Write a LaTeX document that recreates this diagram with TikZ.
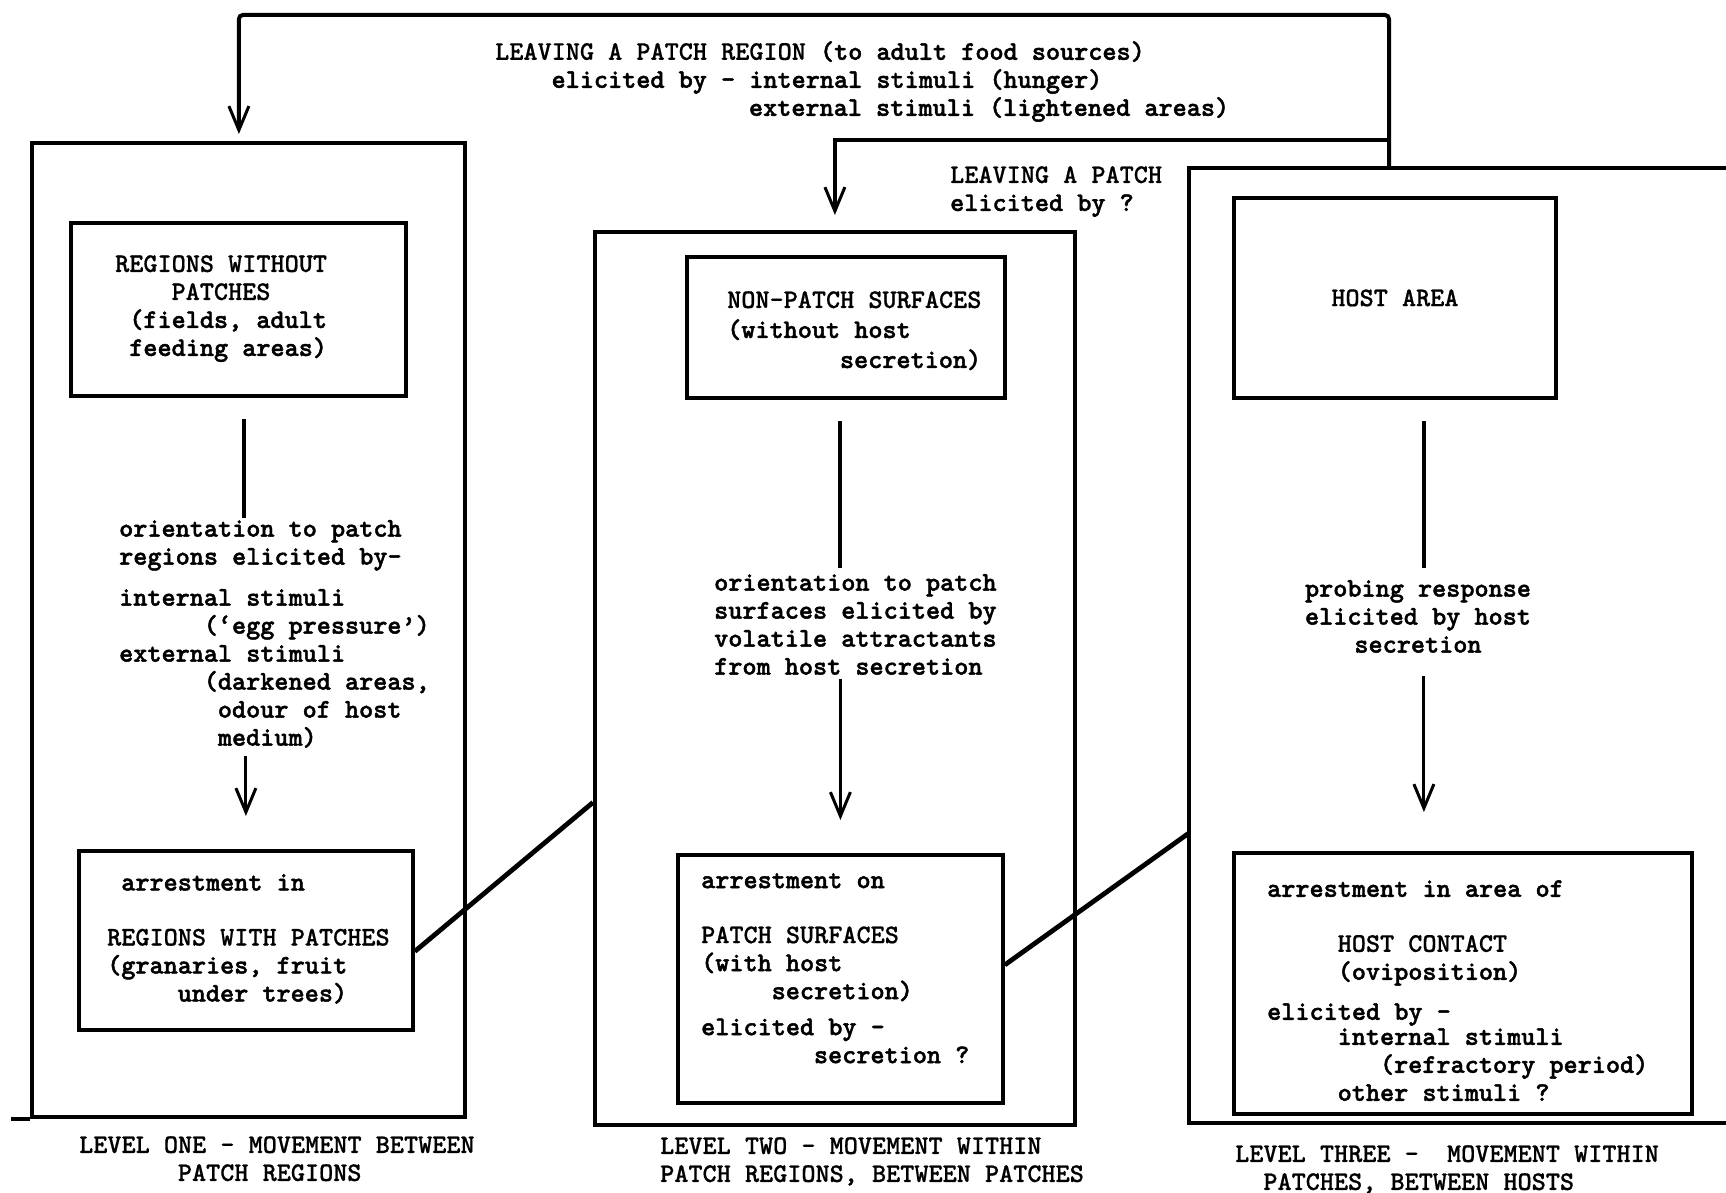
\documentclass[tikz,border=0pt]{standalone}
\usepackage{fontspec}
\setmainfont{lmmonolt10-bold.otf}[BoldFont=lmmonolt10-bold.otf, BoldFeatures={FakeBold=1.6}]
\newfontfamily\capsf{lmmonolt10-bold.otf}[FakeBold=0.6]
\usetikzlibrary{arrows.meta,calc}
\newlength\cw
\setlength\cw{14.1pt}
\newcommand\ind[1]{\hspace*{#1\cw}}
\newcommand\C[1]{{\capsf #1}}
\begin{document}
\begin{tikzpicture}[x=1pt,y=-1pt,
  frame/.style={draw, line width=3.8pt, inner sep=0pt, anchor=north west},
  edge/.style={line width=3.8pt},
  txt/.style={font=\fontsize{26.9}{28}\selectfont\bfseries, inner sep=0pt, align=left, anchor=north west},
  stem/.style={line width=4.8pt},
  conn/.style={line width=4pt, -{Straight Barb[length=24pt,width=20pt,line width=3pt]}},
  arr/.style={line width=3pt, -{Straight Barb[length=24pt,width=20pt,line width=3pt]}},
  link/.style={line width=4.8pt}]
\useasboundingbox (0,0) rectangle (1726,1193);
\fill[white] (0,0) rectangle (1726,1193);

% outer frames
\node[frame, minimum width=433pt, minimum height=974pt] (L1) at (30,141) {};
\draw[edge] (L1.south west) -- ++(-19,0);
\node[frame, minimum width=480pt, minimum height=893pt] (L2) at (593,230) {};
\draw[edge] (1740,168) -- (1189,168) -- (1189,1123) -- (1740,1123);
\coordinate (Rtop) at (1389,168);
\coordinate (R3w) at (1189,833);

% inner boxes
\node[frame, minimum width=335pt, minimum height=173pt] (LT) at (69,221) {};
\node[frame, minimum width=334pt, minimum height=179pt] (LB) at (77,849) {};
\node[frame, minimum width=318pt, minimum height=141pt] (MT) at (685,255) {};
\node[frame, minimum width=325pt, minimum height=248pt] (MB) at (676,853) {};
\node[frame, minimum width=322pt, minimum height=200pt,
      font=\fontsize{26.9}{28}\selectfont\capsf] (RT) at (1232,196) {HOST AREA};
\node[frame, minimum width=458pt, minimum height=261pt] (RB) at (1232,851) {};

% top connectors
\draw[conn, rounded corners=4pt] (Rtop) -- ++(0,-153) -| ($(L1.north)+(-9.5,-7)$);
\draw[conn] ($(Rtop)+(0,-28)$) -| ($(L2.north)+(0,-15)$);

% texts
\node[txt] (T0) at (495,41) {\C{LEAVING A PATCH REGION} (to adult food sources)\\
\ind{4}elicited by - internal stimuli (hunger)\\
\ind{18}external stimuli (lightened areas)};
\node[txt] (T1) at (950,166) {\C{LEAVING A PATCH}\\elicited by ?};

\node[txt] (A1) at (115,255) {\C{REGIONS WITHOUT}\\\ind{4}\C{PATCHES}\\\ind{1}(fields, adult\\\ind{1}feeding areas)};
\node[txt] (A2) at (119,520) {orientation to patch\\regions elicited by-\\[13pt]internal stimuli\\
\ind{6}(`egg pressure')\\external stimuli\\\ind{6}(darkened areas,\\\ind{7}odour of host\\\ind{7}medium)};
\node[txt] (A3) at (107,874) {\ind{1}arrestment in\\[27pt]\C{REGIONS WITH PATCHES}\\(granaries, fruit\\\ind{5}under trees)};

\node[txt] (B1) at (727,291) {\C{NON-PATCH SURFACES}\\[2pt](without host\\[2pt]\ind{8}secretion)};
\node[txt] (B2) at (714,574) {orientation to patch\\surfaces elicited by\\volatile attractants\\from host secretion};
\node[txt] (B3) at (701,873) {arrestment on\\[27pt]\C{PATCH SURFACES}\\(with host\\\ind{5}secretion)\\[8pt]elicited by -\\\ind{8}secretion ?};

\node[txt, anchor=north, align=center] (C2) at (1418,580) {probing response\\elicited by host\\secretion};
\node[txt] (C3) at (1267,880) {arrestment in area of\\[27pt]\ind{5}\C{HOST CONTACT}\\\ind{5}(oviposition)\\[12pt]elicited by -\\[-3pt]
\ind{5}internal stimuli\\\ind{8}(refractory period)\\\ind{5}other stimuli ?};

\node[txt] (D1) at (79,1136) {\C{LEVEL ONE - MOVEMENT BETWEEN}\\\ind{7}\C{PATCH REGIONS}};
\node[txt] (D2) at (660,1137) {\C{LEVEL TWO - MOVEMENT WITHIN}\\\C{PATCH REGIONS, BETWEEN PATCHES}};
\node[txt] (D3) at (1235,1145) {\C{LEVEL THREE -\ \ MOVEMENT WITHIN}\\\ind{2}\C{PATCHES, BETWEEN HOSTS}};

% stems and arrows
\draw[stem] ($(LT.south)+(5.5,21)$) -- ($(LT.south)+(5.5,120)$);
\draw[arr] ($(LB.north)+(0,-93)$) -- ($(LB.north)+(0,-33)$);
\draw[stem] ($(MT.south)+(-6,21)$) -- ($(MT.south)+(-6,168)$);
\draw[arr] ($(MB.north)+(0,-174)$) -- ($(MB.north)+(0,-33)$);
\draw[stem] ($(RT.south)+(29,21)$) -- ($(RT.south)+(29,168)$);
\draw[arr] ($(RB.north)+(-39,-175)$) -- ($(RB.north)+(-39,-39)$);

% links between levels
\draw[link] ($(LB.east)+(0,11)$) -- ($(L2.west)+(0,124)$);
\draw[link] ($(MB.east)+(0,-14)$) -- (R3w);
\end{tikzpicture}
\end{document}
